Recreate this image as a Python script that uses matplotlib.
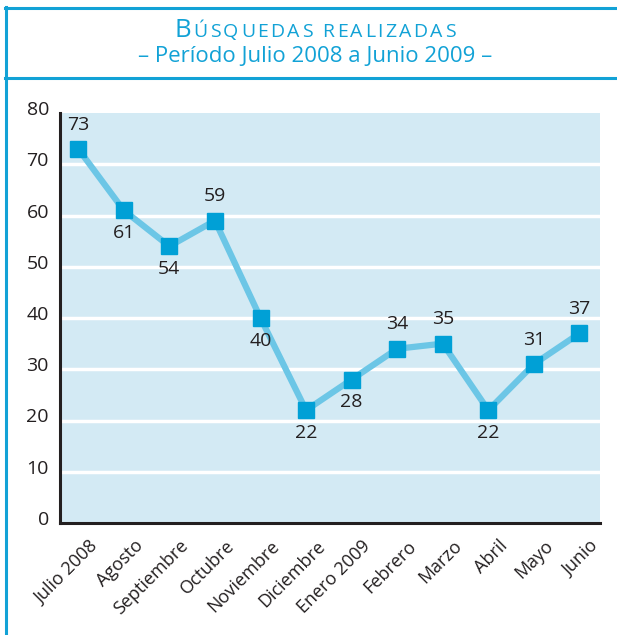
import matplotlib
matplotlib.use("Agg")
import matplotlib.pyplot as plt
from matplotlib.lines import Line2D
import matplotlib.transforms as mtransforms
from matplotlib.font_manager import FontProperties

months = ["Julio 2008", "Agosto", "Septiembre", "Octubre", "Noviembre", "Diciembre",
          "Enero 2009", "Febrero", "Marzo", "Abril", "Mayo", "Junio"]
values = [73, 61, 54, 59, 40, 22, 28, 34, 35, 22, 31, 37]
label_above = [True, False, False, True, False, False, False, True, True, False, True, True]
yticks = [0, 10, 20, 30, 40, 50, 60, 70, 80]

FONT = "Open Sans"
BLUE = "#12a2d6"
LINE = "#6cc6e6"
MARK = "#00a0d6"
BG = "#d3eaf4"
TXT = "#231f20"

W, H = 617, 635
DPI = 100
fig = plt.figure(figsize=(W / DPI, H / DPI), dpi=DPI)
fig.patch.set_facecolor("white")

def fx(px): return px / W
def fy(py): return 1 - py / H

# frame
fig.add_artist(Line2D([fx(6), fx(6)], [fy(7), fy(640)], color=BLUE, lw=2.2, transform=fig.transFigure))
fig.add_artist(Line2D([fx(5), fx(620)], [fy(8), fy(8)], color=BLUE, lw=2.2, transform=fig.transFigure))
fig.add_artist(Line2D([fx(5), fx(620)], [fy(78), fy(78)], color=BLUE, lw=2.2, transform=fig.transFigure))

# title: big "B" + small-caps-like rest with letter spacing
r = fig.canvas.get_renderer()
def tw(s, fs):
    w, h, d = r.get_text_width_height_descent(s, FontProperties(family=FONT, size=fs), ismath=False)
    return w

B_FS, SC_FS, TRACK = 18.5, 14, 2.4
rest = "ÚSQUEDAS REALIZADAS"
wB = tw("B", B_FS)
gap_after_B = 2.5
positions = []
for i, ch in enumerate(rest):
    if ch == " ":
        continue
    ink_left = tw(rest[:i + 1], SC_FS) - tw(ch, SC_FS)
    positions.append((ch, ink_left + i * TRACK))
total = wB + gap_after_B + tw(rest, SC_FS) + (len(rest) - 1) * TRACK
x0 = 315 - total / 2
fig.text(fx(x0), fy(37), "B", fontsize=B_FS, color=BLUE, family=FONT, va="baseline")
xs = x0 + wB + gap_after_B
for ch, xp in positions:
    fig.text(fx(xs + xp), fy(37), ch, fontsize=SC_FS, color=BLUE, family=FONT, va="baseline")

fig.text(fx(315), fy(62), "– Período Julio 2008 a Junio 2009 –", fontsize=16, color=BLUE,
         family=FONT, ha="center", va="baseline")

# axes
ax = fig.add_axes([fx(60), fy(523), fx(600) - fx(60), fy(113) - fy(523)])
ax.set_facecolor(BG)
x = list(range(len(months)))
ax.set_xlim(-0.4, 11.45)
ax.set_ylim(0, 80)
for v in yticks[1:-1]:
    ax.axhline(v, color="white", lw=2.5, zorder=1)
ax.plot(x, values, color=LINE, lw=4.5, zorder=2, solid_joinstyle="miter")
ax.plot(x, values, ls="none", marker="s", ms=12, color=MARK, zorder=3)

for xi, v, up in zip(x, values, label_above):
    if up:
        ax.annotate(str(v), (xi, v), xytext=(0, 11), textcoords="offset points",
                    ha="center", va="bottom", fontsize=14, color=TXT, family=FONT)
    else:
        ax.annotate(str(v), (xi, v), xytext=(0, -10), textcoords="offset points",
                    ha="center", va="top", fontsize=14, color=TXT, family=FONT)

ax.set_yticks(yticks)
ax.set_yticklabels([str(v) for v in yticks], fontsize=14, color=TXT, family=FONT)
ax.set_xticks(x)
ax.set_xticklabels(months, rotation=45, ha="right", rotation_mode="anchor",
                   fontsize=13, color=TXT, family=FONT)
ax.tick_params(axis="both", length=0)
ax.tick_params(axis="y", pad=8)
ax.tick_params(axis="x", pad=10)
off = mtransforms.ScaledTranslation(0, 5 / 100, fig.dpi_scale_trans)
for lab in ax.get_yticklabels():
    lab.set_transform(lab.get_transform() + off)
off2 = mtransforms.ScaledTranslation(10 / 100, 0, fig.dpi_scale_trans)
for lab in ax.get_xticklabels():
    lab.set_transform(lab.get_transform() + off2)

for s in ["top", "right"]:
    ax.spines[s].set_visible(False)
for s in ["left", "bottom"]:
    ax.spines[s].set_color(TXT)
    ax.spines[s].set_linewidth(2.2)

fig.savefig("out.png", dpi=DPI)
